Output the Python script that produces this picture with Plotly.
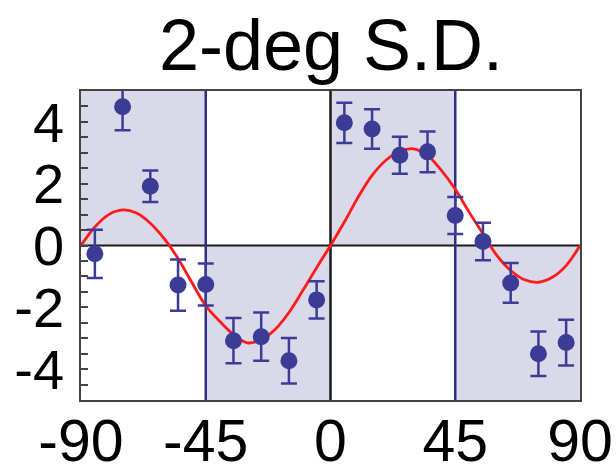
import plotly.graph_objects as go

# ---- data ----
angle = [-85, -75, -65, -55, -45, -35, -25, -15, -5, 5, 15, 25, 35, 45, 55, 65, 75, 85]
value = [-0.27, 4.49, 1.92, -1.28, -1.26, -3.08, -2.95, -3.73, -1.76,
         3.97, 3.77, 2.92, 3.03, 0.97, 0.13, -1.21, -3.50, -3.14]
error = [0.78, 0.76, 0.51, 0.83, 0.68, 0.73, 0.78, 0.74, 0.60,
         0.65, 0.64, 0.60, 0.66, 0.60, 0.61, 0.64, 0.72, 0.74]

fit_x = [-90, -85, -80, -75, -70, -65, -60, -55, -50, -45, -40, -35, -30, -25, -20, -15, -10, -5,
         0, 5, 10, 15, 20, 25, 30, 35, 40, 45, 50, 55, 60, 65, 70, 75, 80, 85, 90]
fit_y = [0.0, 0.6, 1.0, 1.15, 1.05, 0.72, 0.22, -0.42, -1.2, -1.95, -2.45, -2.88, -3.15, -3.05,
         -2.72, -2.17, -1.46, -0.72,
         0.0, 0.76, 1.57, 2.27, 2.76, 3.05, 3.13, 2.92, 2.43, 1.82, 1.08, 0.38, -0.32, -0.81,
         -1.11, -1.19, -1.03, -0.65, 0.0]

# shaded quadrants (x-start, x-end, y-start, y-end)
quad_x0 = [-90, -45, 0, 45]
quad_x1 = [-45, 0, 45, 90]
quad_y0 = [0, -5, 0, -5]
quad_y1 = [5, 0, 5, 0]

divider_x = [-45, 0, 45]
divider_color = ["#2f2f8a", "#1a1a1a", "#2f2f8a"]

x_range = [-90, 90]
y_range = [-5, 5]
x_ticks = [-90, -45, 0, 45, 90]
x_labels = ["-90", "-45", "0", "45", "90"]
y_ticks = [-4, -2, 0, 2, 4]
y_labels = ["-4", "-2", "0", "2", "4"]

title_text = "2-deg S.D."

FONT = "Liberation Sans, Arial, Helvetica, sans-serif"
BLUE = "#3c3c96"
SHADE = "#d9d9ea"

shapes = []
for x0, x1, y0, y1 in zip(quad_x0, quad_x1, quad_y0, quad_y1):
    shapes.append(dict(type="rect", xref="x", yref="y", x0=x0, x1=x1, y0=y0, y1=y1,
                       fillcolor=SHADE, line=dict(width=0), layer="below"))
shapes.append(dict(type="line", xref="x", yref="y", x0=x_range[0], x1=x_range[1], y0=0, y1=0,
                   line=dict(color="#1a1a1a", width=1.8), layer="below"))
for dx, c in zip(divider_x, divider_color):
    shapes.append(dict(type="line", xref="x", yref="y", x0=dx, x1=dx, y0=y_range[0], y1=y_range[1],
                       line=dict(color=c, width=2.5), layer="below"))

fig = go.Figure()
fig.add_trace(go.Scatter(
    x=fit_x, y=fit_y, mode="lines", line=dict(color="#ff1a1a", width=2.8, shape="spline"),
    hoverinfo="skip", showlegend=False))
fig.add_trace(go.Scatter(
    x=angle, y=value, mode="markers",
    marker=dict(color=BLUE, size=17),
    error_y=dict(type="data", array=error, visible=True, color=BLUE, thickness=2.5, width=8),
    showlegend=False))

fig.update_layout(
    width=616, height=471,
    margin=dict(l=81, r=36, t=91, b=71, autoexpand=False),
    paper_bgcolor="white", plot_bgcolor="white",
    shapes=shapes,
    title=dict(text=title_text, font=dict(family=FONT, size=72, color="black"),
               x=331 / 616, xanchor="center", xref="container",
               y=1 - 20 / 471, yanchor="top", yref="container", automargin=False),
    font=dict(family=FONT, color="black"),
)
fig.update_xaxes(range=x_range, tickvals=x_ticks, ticktext=x_labels, ticks="", showgrid=False,
                 zeroline=False, automargin=False,
                 showline=True, linecolor="#444444", linewidth=1.5, mirror=True,
                 tickfont=dict(size=59), ticklabelstandoff=-12)
fig.update_yaxes(range=y_range, tickvals=y_ticks, ticktext=y_labels, ticks="inside", ticklen=7,
                 tickwidth=1.5, tickcolor="#444444", showgrid=False, zeroline=False, automargin=False,
                 showline=True, linecolor="#444444", linewidth=1.5, mirror=True,
                 minor=dict(dtick=0.5, ticks="inside", ticklen=7, tickwidth=1.5, tickcolor="#444444",
                            showgrid=False),
                 tickfont=dict(size=56), ticklabelstandoff=4)

fig.write_html("out.html", config={"displayModeBar": False},
               post_script="document.body.style.margin='0';document.body.style.overflow='hidden';")
